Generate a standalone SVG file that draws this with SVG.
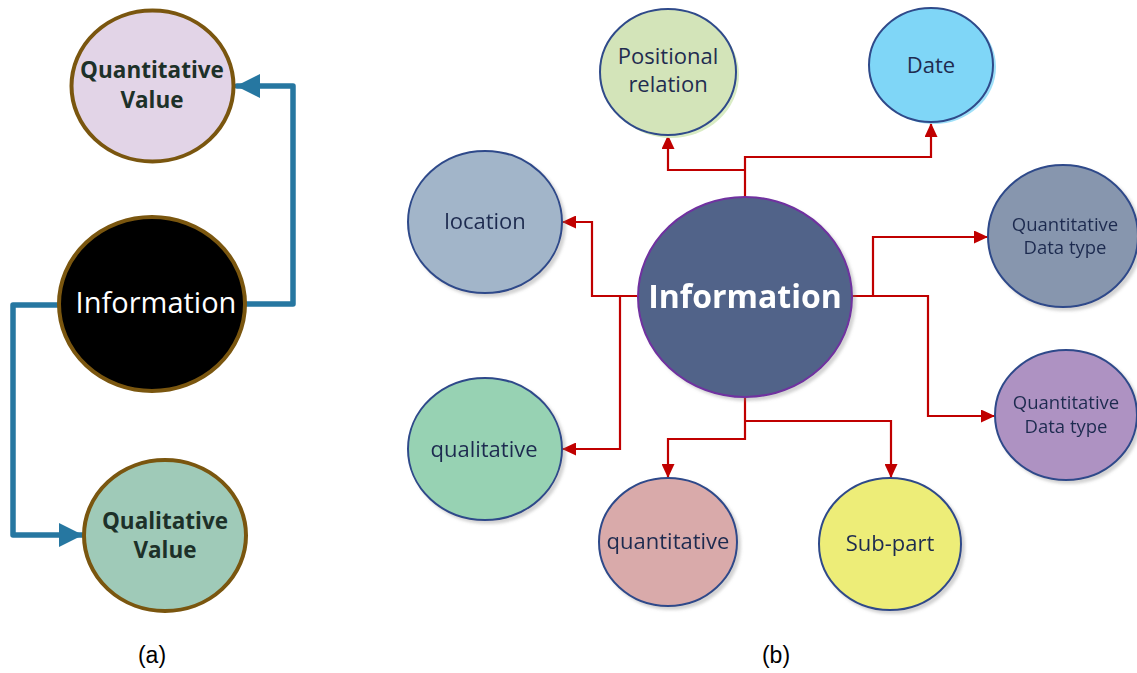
<svg xmlns="http://www.w3.org/2000/svg" width="1137" height="673" viewBox="0 0 1137 673">
  <style>
    .a-node { stroke: #7a560f; stroke-width: 4; }
    .a-bold { font-family: "Open Sans", "Noto Sans", sans-serif; font-weight: 700; font-size: 22.5px; fill: #1d3129; text-anchor: middle; }
    .a-link { fill: none; stroke: #2677a1; stroke-width: 5.5; stroke-linejoin: round; stroke-linecap: round; }
    .b-node { stroke: #2f4a8a; stroke-width: 2; }
    .b-text { font-family: "Open Sans", "Noto Sans", sans-serif; font-size: 22px; fill: #1f2c50; text-anchor: middle; }
    .b-small { font-family: "Open Sans", "Noto Sans", sans-serif; font-size: 18.5px; fill: #1f2c50; text-anchor: middle; }
    .b-link { fill: none; stroke: #c00000; stroke-width: 2.2; }
    .caption { font-family: "Liberation Sans", Arial, sans-serif; font-size: 23px; fill: #000; text-anchor: middle; }
  </style>
  <defs>
    <marker id="blueArrow" markerUnits="userSpaceOnUse" markerWidth="24" markerHeight="24" refX="23" refY="12" orient="auto">
      <path d="M0,0 L24,12 L0,24 Z" fill="#2677a1"/>
    </marker>
    <marker id="redArrow" markerUnits="userSpaceOnUse" markerWidth="14" markerHeight="13" refX="14" refY="6.5" orient="auto">
      <path d="M0,0 L14,6.5 L0,13 Z" fill="#c00000"/>
    </marker>
    <filter id="shadow" x="-20%" y="-20%" width="145%" height="145%">
      <feDropShadow dx="3" dy="3" stdDeviation="1.5" flood-color="#808080" flood-opacity="0.35"/>
    </filter>
  </defs>

  <rect width="1137" height="673" fill="#ffffff"/>

  <!-- ===== (a) ===== -->
  <g id="a-connectors">
    <path class="a-link" d="M244,304 H293 V86 H237" marker-end="url(#blueArrow)"/>
    <path class="a-link" d="M58,305 H13 V535 H82" marker-end="url(#blueArrow)"/>
  </g>
  <g id="a-quantitative-value">
    <ellipse class="a-node" cx="152.5" cy="86" rx="81" ry="75.5" fill="#e2d4e7"/>
    <text class="a-bold" x="152" y="78">Quantitative</text>
    <text class="a-bold" x="152" y="108">Value</text>
  </g>
  <g id="a-information">
    <ellipse class="a-node" cx="152" cy="304" rx="93" ry="87" fill="#000000"/>
    <text x="156" y="313" font-family="Open Sans, Noto Sans, sans-serif" font-size="29" fill="#ffffff" text-anchor="middle">Information</text>
  </g>
  <g id="a-qualitative-value">
    <ellipse class="a-node" cx="165" cy="535.5" rx="81" ry="75.5" fill="#9fcab8"/>
    <text class="a-bold" x="165" y="529">Qualitative</text>
    <text class="a-bold" x="165" y="558">Value</text>
  </g>
  <text class="caption" x="152" y="663">(a)</text>

  <!-- ===== (b) ===== -->
  <g id="b-connectors">
    <path class="b-link" d="M745,197 V157 H931 V123" marker-end="url(#redArrow)"/>
    <path class="b-link" d="M745,170 H668 V135" marker-end="url(#redArrow)"/>
    <path class="b-link" d="M637,296 H592 V222 H562" marker-end="url(#redArrow)"/>
    <path class="b-link" d="M620,296 V449 H562" marker-end="url(#redArrow)"/>
    <path class="b-link" d="M852,296 H873 V237 H988" marker-end="url(#redArrow)"/>
    <path class="b-link" d="M873,296 H928 V416 H995" marker-end="url(#redArrow)"/>
    <path class="b-link" d="M745,397 V439 H668 V478" marker-end="url(#redArrow)"/>
    <path class="b-link" d="M745,421 H891 V478" marker-end="url(#redArrow)"/>
  </g>

  <g id="b-positional-relation">
    <ellipse cx="671" cy="75" rx="68" ry="63" fill="#d9ecc4"/>
    <ellipse class="b-node" cx="668" cy="72" rx="68" ry="63" fill="#d3e4b9"/>
    <text class="b-text" x="668" y="64">Positional</text>
    <text class="b-text" x="668" y="92">relation</text>
  </g>
  <g id="b-date">
    <ellipse cx="934" cy="67" rx="62" ry="57" fill="#9ee0f9"/>
    <ellipse class="b-node" cx="931" cy="65" rx="62" ry="57" fill="#7fd6f7"/>
    <text class="b-text" x="931" y="73">Date</text>
  </g>
  <g id="b-location" filter="url(#shadow)">
    <ellipse class="b-node" cx="485" cy="222" rx="77" ry="71" fill="#a2b5c9"/>
    <text class="b-text" x="485" y="229">location</text>
  </g>
  <g id="b-information" filter="url(#shadow)">
    <ellipse cx="745" cy="297" rx="107" ry="100" fill="#516489" stroke="#7030a0" stroke-width="2"/>
    <text x="745" y="308" font-family="Open Sans, Noto Sans, sans-serif" font-weight="700" font-size="32" fill="#ffffff" text-anchor="middle">Information</text>
  </g>
  <g id="b-qualitative" filter="url(#shadow)">
    <ellipse class="b-node" cx="485" cy="449" rx="77" ry="71" fill="#97d2b3"/>
    <text class="b-text" x="484" y="457">qualitative</text>
  </g>
  <g id="b-quantitative" filter="url(#shadow)">
    <ellipse class="b-node" cx="668" cy="542" rx="69" ry="64" fill="#d9aaaa"/>
    <text class="b-text" x="668" y="549">quantitative</text>
  </g>
  <g id="b-sub-part" filter="url(#shadow)">
    <ellipse class="b-node" cx="890" cy="544" rx="71" ry="66" fill="#eded78"/>
    <text class="b-text" x="890" y="551">Sub-part</text>
  </g>
  <g id="b-quantitative-data-type-1" filter="url(#shadow)">
    <ellipse class="b-node" cx="1063" cy="236" rx="75" ry="71" fill="#8796ae"/>
    <text class="b-small" x="1065" y="231">Quantitative</text>
    <text class="b-small" x="1065" y="254">Data type</text>
  </g>
  <g id="b-quantitative-data-type-2" filter="url(#shadow)">
    <ellipse class="b-node" cx="1066" cy="415" rx="71" ry="65" fill="#ae92c2"/>
    <text class="b-small" x="1066" y="409">Quantitative</text>
    <text class="b-small" x="1066" y="433">Data type</text>
  </g>
  <text class="caption" x="776" y="663">(b)</text>
</svg>
